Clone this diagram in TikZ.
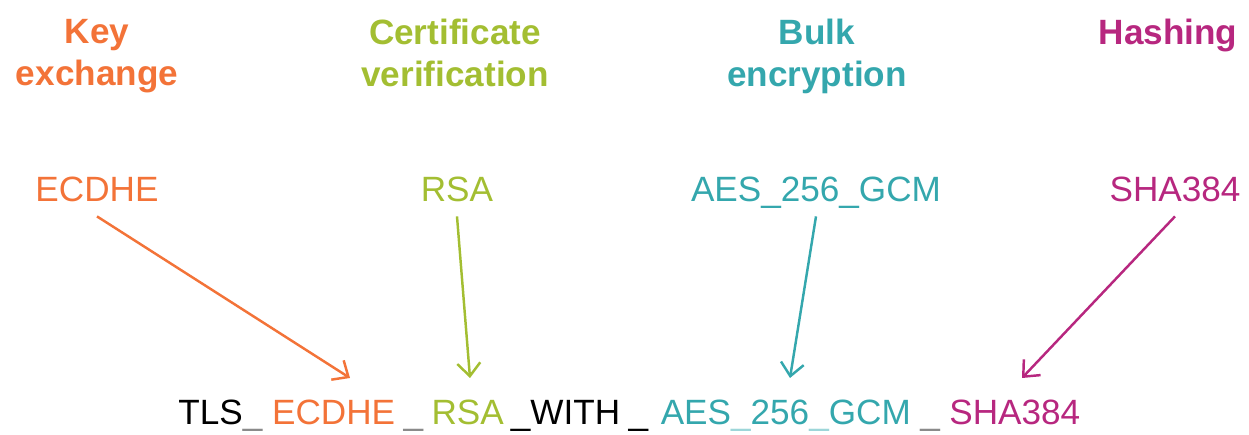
\documentclass[tikz,border=0pt]{standalone}
\usepackage{fontspec}
\setmainfont{Liberation Sans}
\usetikzlibrary{arrows.meta,positioning}
\definecolor{cKx}{HTML}{F37338}
\definecolor{cCv}{HTML}{A3BE32}
\definecolor{cBe}{HTML}{34A7AD}
\definecolor{cBl}{HTML}{9DD6D9}
\definecolor{cHs}{HTML}{B7277F}
\definecolor{cGr}{HTML}{8A8A8A}
\tikzset{
  head/.style={font=\fontsize{20}{24}\selectfont\bfseries,align=center,
               inner sep=0pt,anchor=north},
  algo/.style={font=\fontsize{20}{24}\selectfont,anchor=base,
               text depth=0pt,inner xsep=0pt,inner ysep=8pt},
  part/.style={font=\fontsize{20}{24}\selectfont,inner sep=0pt},
  pick/.style={-{Straight Barb[length=2.6mm,width=4.6mm]},line width=1.4pt},
}
\newcommand{\usc}[1]{\textcolor{#1}{\_}}

\begin{document}
\begin{tikzpicture}[x=0.02cm,y=-0.02cm]
  \useasboundingbox (0,0) rectangle (1249,435);
  % what each part of the suite stands for
  \node[head,text=cKx](kxHead) at (97,19){Key\\exchange};
  \node[head,text=cCv](cvHead) at (455,19){Certificate\\verification};
  \node[head,text=cBe](beHead) at (817,19){Bulk\\encryption};
  \node[head,text=cHs](hsHead) at (1168,19){Hashing};
  % chosen algorithms
  \node[algo,text=cKx](kx) at (97,202){ECDHE};
  \node[algo,text=cCv](cv) at (457,202){RSA};
  \node[algo,text=cBe](be) at (816,202){AES\_256\_GCM};
  \node[algo,text=cHs](hs) at (1175,202){SHA384};
  % the suite name
  \node[part,anchor=base west](tls) at (178,425){TLS\usc{cGr}};
  \node[part,text=cKx,base right=5.2pt of tls](ecdhe){ECDHE};
  \node[part,base right=4.4pt of ecdhe](lowA){\usc{cGr}};
  \node[part,text=cCv,base right=4.4pt of lowA](rsa){RSA};
  \node[part,base right=3.6pt of rsa](with){\_WITH};
  \node[part,base right=4.4pt of with](lowB){\_};
  \node[part,text=cBe,base right=6.8pt of lowB](aes){AES\usc{cBl}256\usc{cBl}GCM};
  \node[part,base right=5pt of aes](lowC){\usc{cGr}};
  \node[part,text=cHs,base right=5pt of lowC](sha){SHA384};
  \coordinate (inKx) at (350,378);
  \coordinate (inCv) at (470,378);
  \coordinate (inBe) at (790,378);
  \coordinate (inHs) at (1022,378);
  \draw[pick,cKx] (kx.south)--(inKx);
  \draw[pick,cCv] (cv.south)--(inCv);
  \draw[pick,cBe] (be.south)--(inBe);
  \draw[pick,cHs] (hs.south)--(inHs);
\end{tikzpicture}
\end{document}
